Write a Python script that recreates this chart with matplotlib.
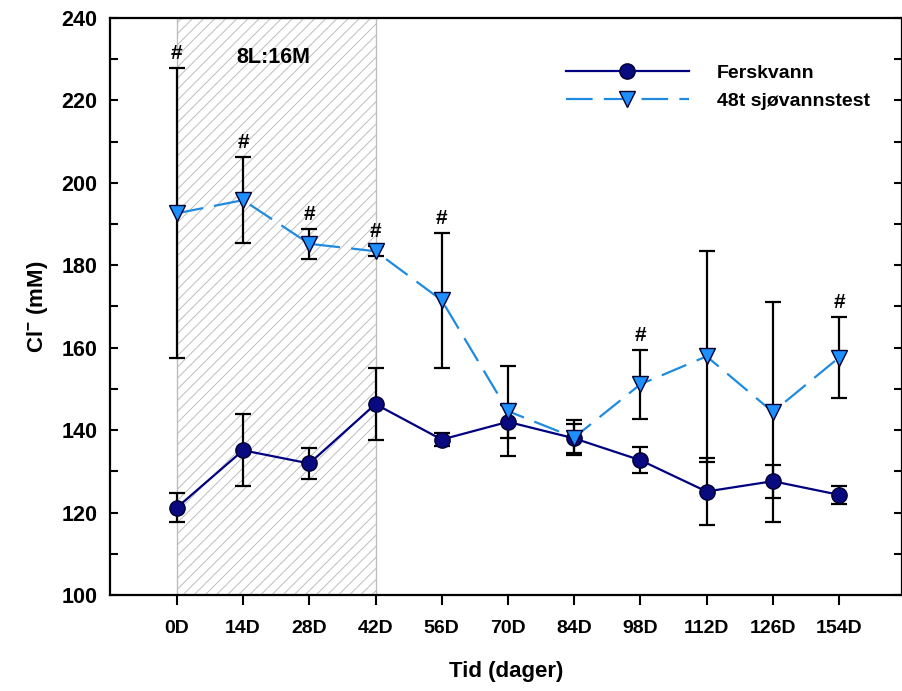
import numpy as np
import matplotlib.pyplot as plt
from matplotlib.ticker import MultipleLocator

plt.rcParams['font.family'] = ['Liberation Sans', 'DejaVu Sans']
plt.rcParams['font.weight'] = 'bold'
plt.rcParams['mathtext.default'] = 'regular'
plt.rcParams['hatch.color'] = '#bdbdbd'
plt.rcParams['hatch.linewidth'] = 0.7

# data
dager = ['0D', '14D', '28D', '42D', '56D', '70D', '84D', '98D', '112D', '126D', '154D']
fersk = [121.2, 135.1, 131.9, 146.3, 137.7, 142.0, 138.0, 132.7, 125.1, 127.6, 124.3]
fersk_sd = [3.6, 8.7, 3.8, 8.8, 1.5, 4.0, 3.6, 3.2, 8.2, 4.0, 2.2]
sjo = [192.6, 195.8, 185.2, 183.4, 171.5, 144.6, 138.2, 151.1, 157.9, 144.4, 157.6]
sjo_sd = [35.2, 10.5, 3.6, 1.2, 16.4, 11.0, 4.3, 8.4, 25.6, 26.8, 9.9]
signif = [0, 1, 2, 3, 4, 7, 10]  # punkter med '#'

x = np.arange(len(dager))

fig = plt.figure(figsize=(9.03, 6.91), dpi=100)
ax = fig.add_axes([0.1218, 0.139, 0.877, 0.835])

# lysregime 8L:16M
ax.axvspan(0, 3, facecolor='white', edgecolor='#bdbdbd', hatch='///', linewidth=1.0, zorder=0)
ax.text(1.46, 230.3, '8L:16M', ha='center', va='center', fontsize=15.5, fontweight='bold')

ax.errorbar(x, fersk, yerr=fersk_sd, fmt='none', ecolor='black', elinewidth=1.6,
            capsize=6, capthick=1.6, zorder=2)
ax.errorbar(x, sjo, yerr=sjo_sd, fmt='none', ecolor='black', elinewidth=1.6,
            capsize=6, capthick=1.6, zorder=2)

ax.plot(x, fersk, '-', color='#000080', marker='o', markersize=11,
        markerfacecolor='#0a0a80', markeredgecolor='#000030', linewidth=1.6,
        label='Ferskvann', zorder=3)
ax.plot(x, sjo, linestyle=(0, (12, 5)), color='#1e8be0', marker='v', markersize=11,
        markerfacecolor='#1e8fff', markeredgecolor='#000030', linewidth=1.6,
        label='48t sjøvannstest', zorder=3)

for i in signif:
    ax.text(x[i], sjo[i] + sjo_sd[i] + 1.2, '#', ha='center', va='bottom',
            fontsize=15, fontweight='bold')

ax.set_xlim(-1.01, 10.95)
ax.set_ylim(100, 240)
ax.set_xticks(x)
ax.set_xticklabels(dager, fontsize=14, fontweight='bold')
ax.yaxis.set_major_locator(MultipleLocator(20))
ax.yaxis.set_minor_locator(MultipleLocator(10))
ax.tick_params(axis='y', which='both', direction='in', right=True, labelsize=15.5,
               width=1.5, length=6, pad=9)
ax.tick_params(axis='x', direction='out', length=7, width=1.5, pad=11)
for lab in ax.get_yticklabels():
    lab.set_fontweight('bold')
for s in ax.spines.values():
    s.set_linewidth(1.6)

ax.set_xlabel('Tid (dager)', fontsize=16, fontweight='bold', labelpad=17)
ax.set_ylabel('Cl$^{-}$ (mM)', fontsize=16, fontweight='bold', labelpad=8)

ax.legend(loc='upper left', bbox_to_anchor=(0.554, 0.950), frameon=False,
          handlelength=6.3, handletextpad=1.45, labelspacing=0.55,
          prop={'size': 14, 'weight': 'bold'})

plt.savefig('out.png', dpi=100)
